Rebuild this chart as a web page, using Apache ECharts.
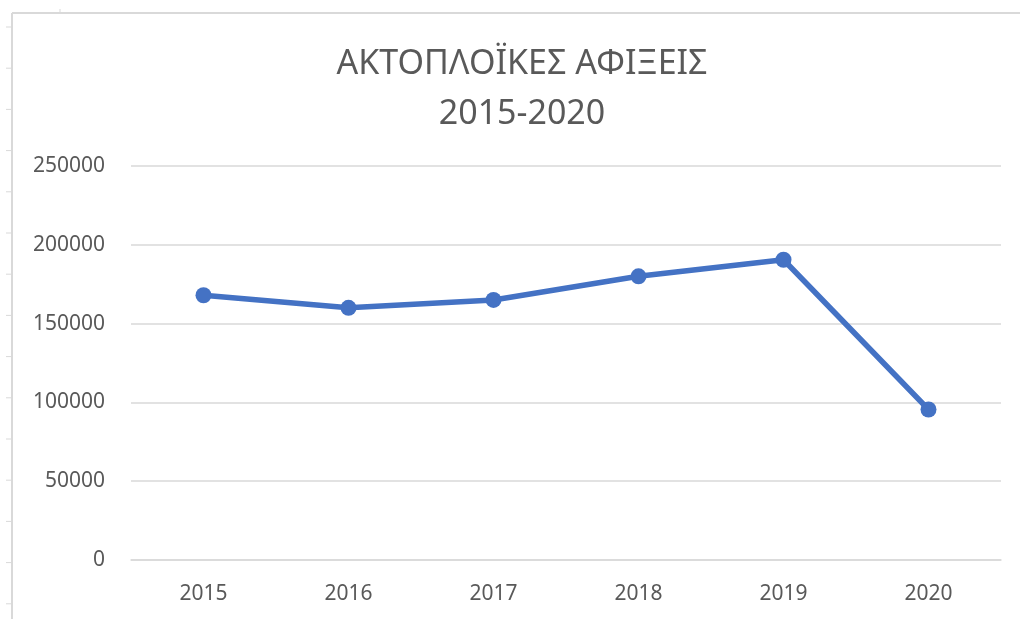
<!DOCTYPE html>
<html>
<head>
<meta charset="utf-8">
<script src="https://cdn.jsdelivr.net/npm/echarts@6/dist/echarts.min.js"></script>
<style>
  html, body { margin: 0; padding: 0; background: #fff; }
  #chart { width: 1020px; height: 619px; }
</style>
</head>
<body>
<div id="chart"></div>
<script>
const years = ['2015', '2016', '2017', '2018', '2019', '2020'];
const arrivals = [168000, 160000, 165000, 180000, 190500, 95500];
const titleLines = ['ΑΚΤΟΠΛΟΪΚΕΣ ΑΦΙΞΕΙΣ', '2015-2020'];

const font = 'Noto Sans';
const textColor = '#595959';
const borderColor = '#d9d9d9';

// spreadsheet frame around the chart (cell border + row ticks)
const frame = [
  { type: 'line', shape: { x1: 12, y1: 13, x2: 1020, y2: 13 }, style: { stroke: borderColor, lineWidth: 2 } },
  { type: 'line', shape: { x1: 12, y1: 13, x2: 12, y2: 619 }, style: { stroke: borderColor, lineWidth: 2 } },
  { type: 'line', shape: { x1: 60, y1: 9, x2: 60, y2: 13 }, style: { stroke: borderColor, lineWidth: 1 } }
];
for (let y = 27; y < 619; y += 41.2) {
  frame.push({ type: 'line', shape: { x1: 6, y1: y, x2: 12, y2: y }, style: { stroke: borderColor, lineWidth: 1 } });
}

const chart = echarts.init(document.getElementById('chart'));

chart.setOption({
  animation: false,
  title: {
    text: titleLines.join('\n'),
    left: 517,
    top: 34,
    textAlign: 'center',
    textStyle: {
      fontFamily: font,
      fontSize: 34,
      fontWeight: 'normal',
      color: textColor,
      lineHeight: 50
    }
  },
  graphic: frame,
  grid: { left: 131, right: 19, top: 166, bottom: 59 },
  xAxis: {
    type: 'category',
    data: years,
    boundaryGap: true,
    axisLine: { lineStyle: { color: borderColor, width: 1.5 } },
    axisTick: { show: false },
    axisLabel: { fontFamily: font, fontSize: 21, color: textColor, margin: 24 }
  },
  yAxis: {
    type: 'value',
    min: 0,
    max: 250000,
    interval: 50000,
    axisLine: { show: false },
    axisTick: { show: false },
    splitLine: { lineStyle: { color: borderColor, width: 1.5 } },
    axisLabel: {
      fontFamily: font,
      fontSize: 21,
      color: textColor,
      margin: 26,
      formatter: function (v) { return String(v); }
    }
  },
  series: [{
    type: 'line',
    data: arrivals,
    symbol: 'circle',
    symbolSize: 16,
    lineStyle: { color: '#4472c4', width: 5.5 },
    itemStyle: { color: '#4472c4' }
  }]
});
</script>
</body>
</html>
